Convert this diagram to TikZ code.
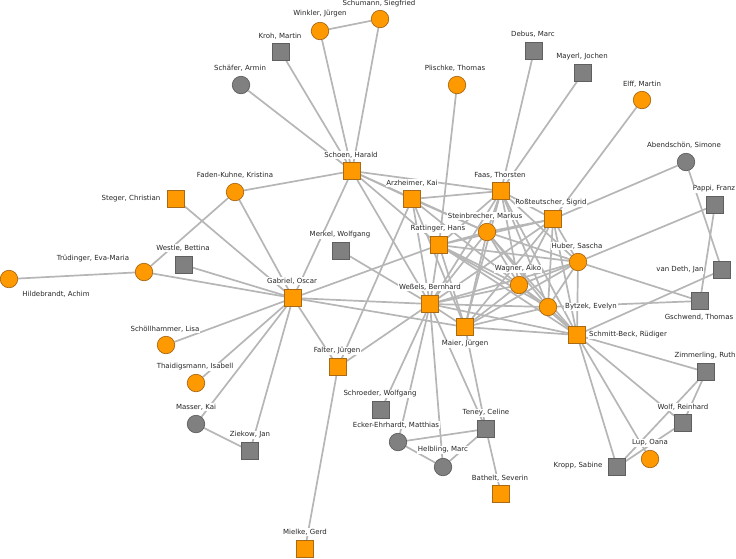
\documentclass[tikz,border=0pt]{standalone}
\usepackage{fontspec}
\setmainfont{DejaVu Sans}
\usetikzlibrary{backgrounds}
\definecolor{orf}{RGB}{255,153,0}
\definecolor{ord}{RGB}{170,105,20}
\definecolor{grf}{RGB}{128,128,128}
\definecolor{grd}{RGB}{95,95,95}
\definecolor{edgec}{RGB}{182,182,182}
\tikzset{
  osq/.style={rectangle,draw=ord,fill=orf,minimum size=17pt,inner sep=0pt,line width=0.7pt},
  oci/.style={circle,draw=ord,fill=orf,minimum size=17.5pt,inner sep=0pt,line width=0.7pt},
  gsq/.style={rectangle,draw=grd,fill=grf,minimum size=17pt,inner sep=0pt,line width=0.7pt},
  gci/.style={circle,draw=grd,fill=grf,minimum size=17.5pt,inner sep=0pt,line width=0.7pt},
  lab/.style={font=\fontsize{7}{8}\selectfont,fill=white,inner sep=0.8pt,text=black!85},
  lnk/.style={draw=edgec,line width=1.7pt}
}
\newcommand\pn[7]{\node[#2] (#1) at (#3,#4) {}; \node[lab] (#1-l) at (#5,#6) {#7};}
\begin{document}
\begin{tikzpicture}[x=1pt,y=-1pt]
\useasboundingbox (0,0) rectangle (736,558);
\pn{schum}{oci}{380}{19}{379}{4}{Schumann, Siegfried}
\pn{wink}{oci}{320}{31}{320}{14}{Winkler, Jürgen}
\pn{kroh}{gsq}{281}{52}{280}{36}{Kroh, Martin}
\pn{schaf}{gci}{241}{85}{240}{68}{Schäfer, Armin}
\pn{plis}{oci}{457}{85}{455}{68}{Plischke, Thomas}
\pn{debus}{gsq}{534}{51}{533}{34}{Debus, Marc}
\pn{mayerl}{gsq}{583}{73}{582}{57}{Mayerl, Jochen}
\pn{elff}{oci}{642}{100}{642}{84}{Elff, Martin}
\pn{abend}{gci}{686}{162}{684}{145}{Abendschön, Simone}
\pn{schoen}{osq}{352}{171}{351}{155}{Schoen, Harald}
\pn{faden}{oci}{235}{192}{235}{175}{Faden-Kuhne, Kristina}
\pn{steger}{osq}{176}{199}{131}{199}{Steger, Christian}
\pn{arz}{osq}{412}{199}{412}{183}{Arzheimer, Kai}
\pn{faas}{osq}{501}{191}{500}{175}{Faas, Thorsten}
\pn{pappi}{gsq}{715}{205}{714}{189}{Pappi, Franz}
\pn{ross}{osq}{553}{219}{551}{203}{Roßteutscher, Sigrid}
\pn{stein}{oci}{487}{232}{485}{216}{Steinbrecher, Markus}
\pn{ratt}{osq}{439}{245}{438}{229}{Rattinger, Hans}
\pn{merkel}{gsq}{341}{251}{340}{235}{Merkel, Wolfgang}
\pn{westle}{gsq}{184}{265}{183}{248}{Westle, Bettina}
\pn{trud}{oci}{144}{272}{93}{259}{Trüdinger, Eva-Maria}
\pn{hild}{oci}{9}{279}{56}{294}{Hildebrandt, Achim}
\pn{huber}{oci}{578}{262}{577}{246}{Huber, Sascha}
\pn{vdeth}{gsq}{722}{270}{680}{270}{van Deth, Jan}
\pn{wagner}{oci}{519}{285}{518}{269}{Wagner, Aiko}
\pn{gab}{osq}{293}{298}{292}{281}{Gabriel, Oscar}
\pn{wes}{osq}{430}{304}{430}{287}{Weßels, Bernhard}
\pn{bytzek}{oci}{548}{307}{591}{307}{Bytzek, Evelyn}
\pn{gschw}{gsq}{700}{301}{699}{317}{Gschwend, Thomas}
\pn{maier}{osq}{465}{327}{465}{344}{Maier, Jürgen}
\pn{sb}{osq}{577}{335}{628}{335}{Schmitt-Beck, Rüdiger}
\pn{scholl}{oci}{166}{345}{165}{329}{Schöllhammer, Lisa}
\pn{falter}{osq}{338}{367}{337}{351}{Falter, Jürgen}
\pn{zimm}{gsq}{706}{372}{705}{356}{Zimmerling, Ruth}
\pn{thaid}{oci}{196}{383}{195}{367}{Thaidigsmann, Isabell}
\pn{schroed}{gsq}{381}{410}{380}{394}{Schroeder, Wolfgang}
\pn{masser}{gci}{196}{424}{196}{407}{Masser, Kai}
\pn{teney}{gsq}{486}{429}{486}{413}{Teney, Celine}
\pn{ecker}{gci}{398}{442}{396}{425}{Ecker-Ehrhardt, Matthias}
\pn{ziekow}{gsq}{250}{451}{250}{435}{Ziekow, Jan}
\pn{wolf}{gsq}{683}{423}{683}{407}{Wolf, Reinhard}
\pn{lup}{oci}{650}{459}{650}{443}{Lup, Oana}
\pn{helb}{gci}{443}{467}{443}{450}{Helbling, Marc}
\pn{kropp}{gsq}{617}{467}{578}{466}{Kropp, Sabine}
\pn{bathelt}{osq}{501}{494}{500}{478}{Bathelt, Severin}
\pn{mielke}{osq}{305}{549}{305}{532}{Mielke, Gerd}
\begin{scope}[on background layer]
\foreach \a/\b in {schum/wink,schum/schoen,wink/schoen,kroh/schoen,schaf/schoen,
  faden/schoen,faden/gab,faden/trud,steger/gab,westle/gab,trud/gab,trud/hild,
  scholl/gab,thaid/gab,masser/gab,masser/ziekow,ziekow/gab,falter/gab,falter/mielke,
  falter/wes,falter/arz,schoen/gab,schoen/arz,schoen/faas,schoen/wes,schoen/ratt,
  schoen/stein,plis/ratt,debus/faas,mayerl/faas,elff/ross,abend/ross,abend/vdeth,
  pappi/gschw,pappi/huber,vdeth/sb,gschw/huber,gschw/bytzek,merkel/wes,schroed/wes,
  ecker/wes,ecker/teney,ecker/helb,helb/wes,helb/teney,teney/wes,teney/maier,
  teney/bathelt,gab/wes,gab/maier,gab/ratt,sb/zimm,sb/wolf,sb/lup,sb/kropp,
  kropp/wolf,kropp/zimm,wolf/zimm,
  arz/faas,arz/wes,arz/maier,arz/stein,arz/wagner,
  faas/ross,faas/stein,faas/ratt,faas/wagner,faas/huber,faas/bytzek,faas/sb,faas/maier,faas/wes,
  ross/stein,ross/ratt,ross/huber,ross/wagner,ross/bytzek,ross/sb,ross/maier,ross/wes,
  stein/ratt,stein/huber,stein/wagner,stein/bytzek,stein/sb,stein/maier,stein/wes,
  ratt/huber,ratt/wagner,ratt/bytzek,ratt/sb,ratt/maier,ratt/wes,
  huber/wagner,huber/bytzek,huber/sb,huber/maier,huber/wes,
  wagner/bytzek,wagner/sb,wagner/maier,wagner/wes,
  bytzek/sb,bytzek/maier,bytzek/wes,maier/sb,maier/wes,wes/sb}
  \draw[lnk] (\a) -- (\b);
\end{scope}
\end{tikzpicture}
\end{document}
